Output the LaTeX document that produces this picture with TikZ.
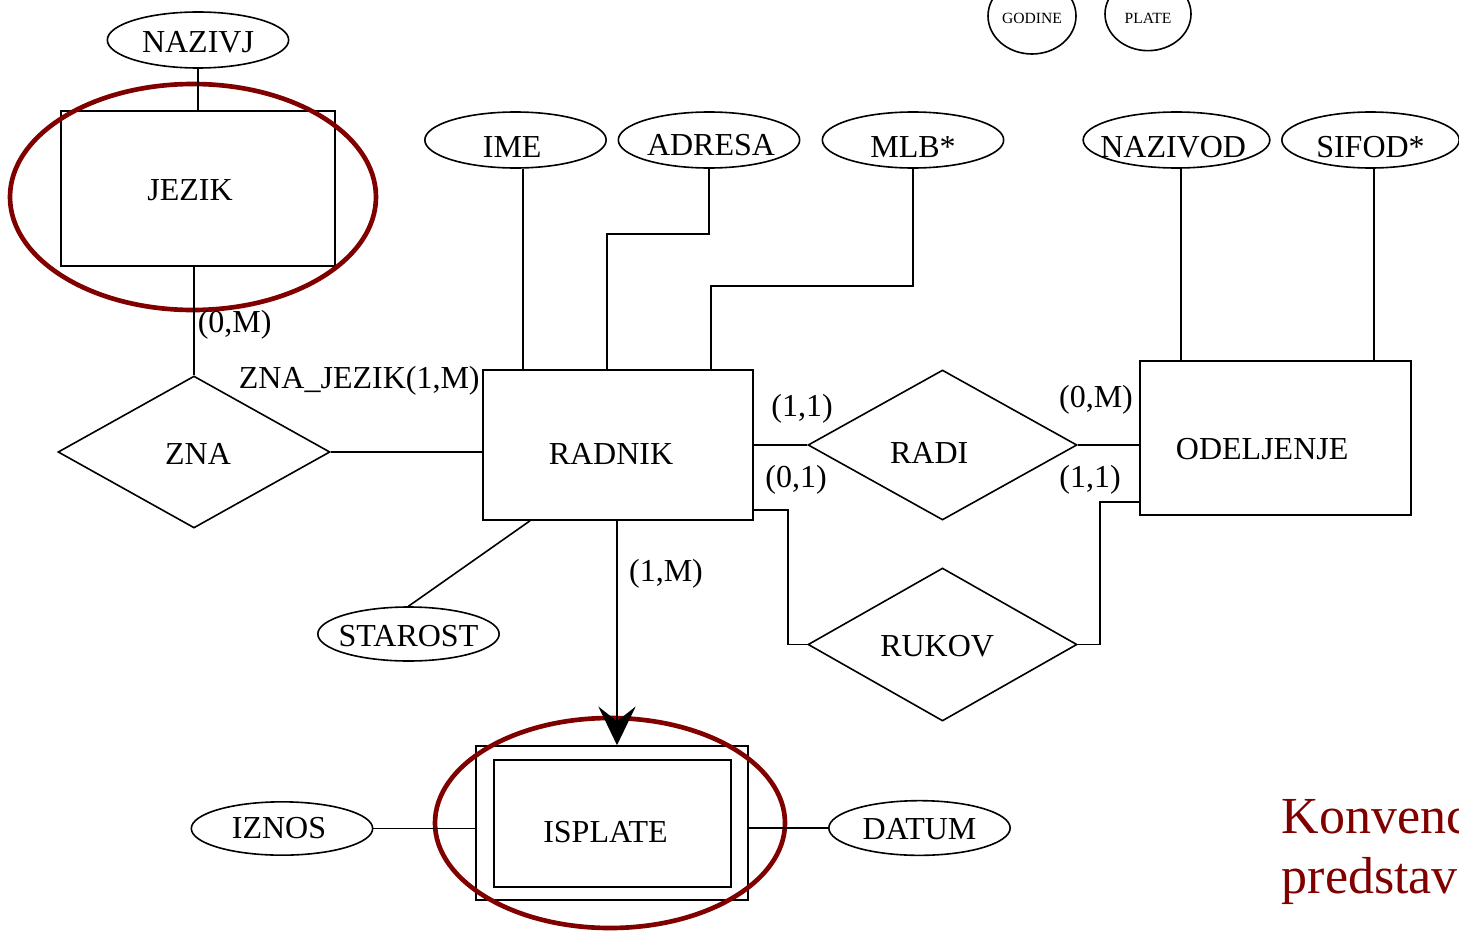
\documentclass[tikz,border=0pt]{standalone}
\usepackage{fontspec}
\setmainfont{Liberation Serif}
\usetikzlibrary{arrows.meta}
\usetikzlibrary{shapes.geometric}
\definecolor{markred}{RGB}{128,0,0}
\newcommand{\smallfont}{\fontsize{11.7}{14}\selectfont}
\tikzset{%
    every node/.style={font=\fontsize{24}{28}\selectfont},%
    entity/.style={draw, rectangle, inner sep=0pt},%
    relation/.style={draw, diamond, inner sep=0pt},%
    attrib/.style={draw, ellipse, inner sep=0pt, minimum width=136pt, minimum height=42pt},%
    card/.style={inner sep=0pt},%
    highlight/.style={draw=markred, line width=3.5pt},%
    konv/.style={inner sep=0pt, text=markred, font=\fontsize{39}{46}\selectfont},%
}

\begin{document}
\begin{tikzpicture}[x=0.75pt,y=0.75pt,yscale=-1,xscale=1,line width=1.2pt]
\useasboundingbox (0,0) rectangle (1459,931);
\clip (0,0) rectangle (1459,931);

%Entities
\node [entity, minimum width=205.5pt, minimum height=116.25pt, label={[xshift=-6pt,yshift=-1.5pt]center:JEZIK}] (jezik) at (198,188.5) {};
\node [entity, minimum width=202.5pt, minimum height=112.5pt, label={[xshift=-5.25pt,yshift=-6.75pt]center:RADNIK}] (radnik) at (618,445) {};
\node [entity, minimum width=203.25pt, minimum height=115.5pt, label={[xshift=-10pt,yshift=-8.25pt]center:ODELJENJE}] (odeljenje) at (1275.5,438) {};
\node [entity, minimum width=204pt, minimum height=115.5pt] (isplate) at (612,823) {};
\node [entity, minimum width=177.75pt, minimum height=95.25pt, label={[xshift=-5.25pt,yshift=-6.75pt]center:ISPLATE}] (isplatein) at (612.5,823.5) {};

%Relations
\node [relation, minimum width=204pt, minimum height=114pt, label={[xshift=3pt,yshift=-1.5pt]center:ZNA}] (zna) at (194,452) {};
\node [relation, minimum width=201.75pt, minimum height=112.5pt, label={[xshift=-10pt,yshift=-6pt]center:RADI}] (radi) at (942.5,445) {};
\node [relation, minimum width=201.75pt, minimum height=114.75pt, label={[xshift=-4pt,yshift=-1pt]center:RUKOV}] (rukov) at (942.5,644.5) {};

%Attributes
\node [attrib, label={[yshift=-1.5pt]center:NAZIVJ}] (nazivj) at (198,40) {};
\node [attrib, label={[xshift=-2.5pt,yshift=-5.25pt]center:IME}] (ime) at (515.5,140) {};
\node [attrib, label={[xshift=1.5pt,yshift=-3.75pt]center:ADRESA}] (adresa) at (709,140) {};
\node [attrib, label={[yshift=-5.25pt]center:MLB*}] (mlb) at (913,140) {};
\node [attrib, minimum width=140pt, label={[xshift=-2.5pt,yshift=-5.25pt]center:NAZIVOD}] (nazivod) at (1176.5,140) {};
\node [attrib, minimum width=133pt, label={[yshift=-5.25pt]center:SIFOD*}] (sifod) at (1370.5,140) {};
\node [attrib, minimum height=40.5pt, label={[yshift=-1.5pt]center:STAROST}] (starost) at (408.5,634) {};
\node [attrib, minimum height=40pt, label={[xshift=-2.25pt]center:IZNOS}] (iznos) at (282,828.5) {};
\node [attrib, minimum height=41pt, label={[yshift=-0.75pt]center:DATUM}] (datum) at (919.5,828) {};
\node [attrib, minimum width=66pt, minimum height=57pt, label={[font=\smallfont, yshift=-1.5pt]center:GODINE}] (godine) at (1032,16) {};
\node [attrib, minimum width=64.5pt, minimum height=55pt, label={[font=\smallfont, yshift=-3pt]center:PLATE}] (plate) at (1148,14) {};

%Highlights
\draw [highlight] (193,197) ellipse [x radius=183, y radius=113];
\draw [highlight] (610,823) ellipse [x radius=175, y radius=105];

%Connectors
\draw (nazivj) -- (jezik);
\draw (zna.north) -- (zna.north |- jezik.south);
\draw (zna.east) -- (zna.east -| radnik.west);
\draw (ime.south -| 523,0) -- (radnik.north -| 523,0);
\draw (adresa.south) |- (607,234) -- (radnik.north -| 607,0);
\draw (mlb.south) |- (711,286) -- (radnik.north -| 711,0);
\draw (nazivod.south -| 1181,0) -- (odeljenje.north -| 1181,0);
\draw (sifod.south -| 1374,0) -- (odeljenje.north -| 1374,0);
\draw (radnik.east |- radi.west) -- (radi.west);
\draw (radi.east) -- (radi.east -| odeljenje.west);
\draw (radnik.east |- 0,510) -| (rukov.west -| 788,0) -- (rukov.west);
\draw (odeljenje.west |- 0,502) -| (rukov.east -| 1100,0) -- (rukov.east);
\draw (radnik.south -| 530,0) -- (starost.north);
\draw [-{Stealth[length=29pt,width=28pt,inset=11pt]}] (radnik.south -| 617,0) -- (isplate.north -| 617,0);
\draw (iznos.east) -- (iznos.east -| isplate.west);
\draw (isplate.east |- datum.west) -- (datum.west);

% Text Node
\node [card, anchor=west] (cjezik) at (197,325) {(0,M)};
\node [card, anchor=west] (zjezik) at (238,381) {ZNA\_JEZIK(1,M)};
\node [card] (cradi1) at (802,409) {(1,1)};
\node [card] (crukov1) at (796,480) {(0,1)};
\node [card] (cradi2) at (1096,400) {(0,M)};
\node [card] (crukov2) at (1090,480) {(1,1)};
\node [card] (cisplate) at (666,574) {(1,M)};
\node [konv, anchor=base west] (konv1) at (1281,833) {Konvenc};
\node [konv, anchor=base west] (konv2) at (1281,893) {predstav};

\end{tikzpicture}
\end{document}
